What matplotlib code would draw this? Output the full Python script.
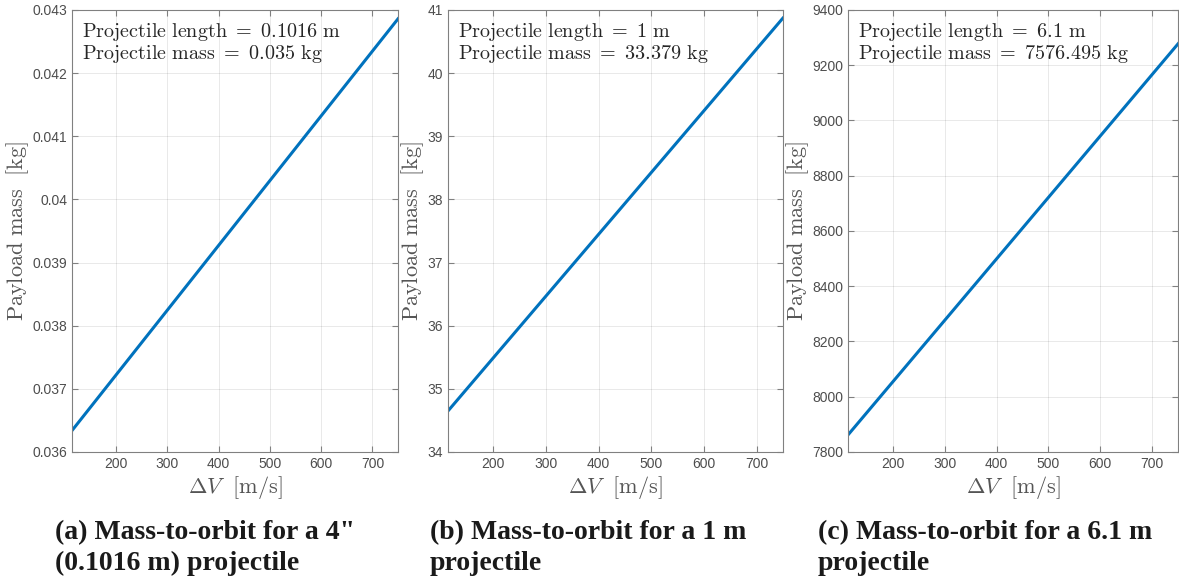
import matplotlib
matplotlib.use('Agg')
import matplotlib.pyplot as plt

# Delta-V range [m/s] (straight lines, so end points are enough)
delta_v = [114, 750]

# Payload mass [kg] at the two ends of the delta-V range
payload_a = [0.03634, 0.04286]
payload_b = [34.65, 40.87]
payload_c = [7862, 9278]

lengths = ['0.1016', '1', '6.1']
masses = ['0.035', '33.379', '7576.495']
ylims = [(0.036, 0.043), (34, 41), (7800, 9400)]
yticks = [
    [0.036, 0.037, 0.038, 0.039, 0.040, 0.041, 0.042, 0.043],
    [34, 35, 36, 37, 38, 39, 40, 41],
    [7800, 8000, 8200, 8400, 8600, 8800, 9000, 9200, 9400],
]
ytick_labels = [
    ['0.036', '0.037', '0.038', '0.039', '0.04', '0.041', '0.042', '0.043'],
    ['34', '35', '36', '37', '38', '39', '40', '41'],
    ['7800', '8000', '8200', '8400', '8600', '8800', '9000', '9200', '9400'],
]
xticks = [200, 300, 400, 500, 600, 700]
captions = [
    '(a) Mass-to-orbit for a 4"\n(0.1016 m) projectile',
    '(b) Mass-to-orbit for a 1 m\nprojectile',
    '(c) Mass-to-orbit for a 6.1 m\nprojectile',
]

plt.rcParams['mathtext.fontset'] = 'cm'
plt.rcParams['font.family'] = 'Liberation Sans'

fig = plt.figure(figsize=(11.79, 5.86), dpi=100)

# axes boxes in figure fractions (left, bottom, width, height)
boxes = [
    (0.0611, 0.2287, 0.2765, 0.7543),
    (0.3800, 0.2287, 0.2840, 0.7543),
    (0.7193, 0.2287, 0.2800, 0.7543),
]
caption_x = [55 / 1179, 430 / 1179, 818 / 1179]

series = [payload_a, payload_b, payload_c]
tick_gray = '#4d4d4d'

for i in range(3):
    ax = fig.add_axes(boxes[i])
    ax.plot(delta_v, series[i], color='#0072BD', linewidth=2.2)
    ax.set_xlim(delta_v[0], delta_v[1])
    ax.set_ylim(*ylims[i])
    ax.set_xticks(xticks)
    ax.set_yticks(yticks[i])
    ax.set_yticklabels(ytick_labels[i])
    ax.grid(True, color='#000000', alpha=0.09, linewidth=0.7)
    ax.tick_params(direction='in', top=True, right=True, length=4,
                   labelsize=10, colors='#808080', labelcolor=tick_gray)
    for s in ax.spines.values():
        s.set_color('#808080')
        s.set_linewidth(0.8)

    ax.set_xlabel(r'$\Delta V\ \ \mathrm{[m/s]}$', fontsize=16, color='#555555',
                  labelpad=2)
    ax.set_ylabel(r'$\mathrm{Payload\ mass\ \ [kg]}$', fontsize=16,
                  color='#555555', labelpad=1)

    ax.text(0.03, 0.975,
            r'$\mathrm{Projectile\ length}\ =\ ' + lengths[i] + r'\ \mathrm{m}$' + '\n'
            + r'$\mathrm{Projectile\ mass}\ =\ ' + masses[i] + r'\ \mathrm{kg}$',
            transform=ax.transAxes, ha='left', va='top', fontsize=14.5,
            color='#262626', linespacing=1.0)

    fig.text(caption_x[i], 0.113, captions[i], ha='left', va='top',
             fontsize=20, fontweight='bold', family='Liberation Serif',
             color='#1a1a1a', linespacing=1.3)

fig.savefig('out.png', dpi=100)
